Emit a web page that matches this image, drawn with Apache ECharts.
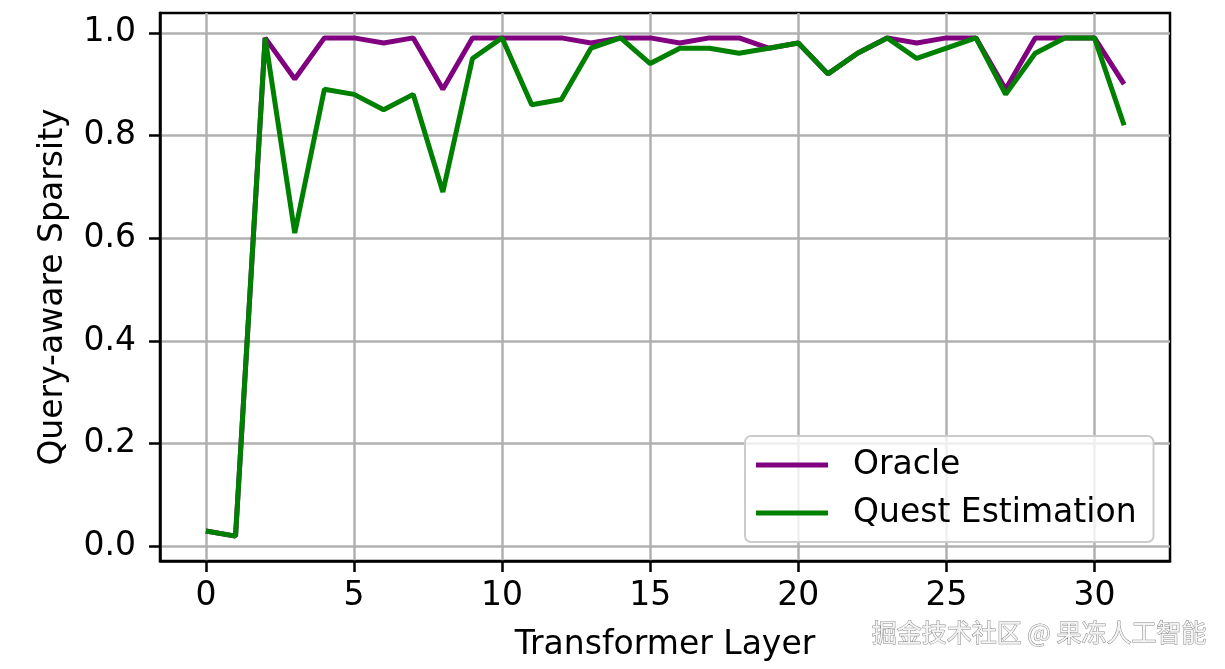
<!DOCTYPE html>
<html>
<head>
<meta charset="utf-8">
<script src="https://cdn.jsdelivr.net/npm/echarts@6/dist/echarts.min.js"></script>
<style>html,body{margin:0;padding:0;background:#fff}#c{width:1225px;height:669px}</style>
</head>
<body>
<div id="c"></div>
<script>
const layers = Array.from({length: 32}, (_, i) => i);
const oracle = [0.03,0.02,0.99,0.91,0.99,0.99,0.98,0.99,0.89,0.99,0.99,0.99,0.99,0.98,0.99,0.99,0.98,0.99,0.99,0.97,0.98,0.92,0.96,0.99,0.98,0.99,0.99,0.89,0.99,0.99,0.99,0.90];
const quest = [0.03,0.02,0.99,0.61,0.89,0.88,0.85,0.88,0.69,0.95,0.99,0.86,0.87,0.97,0.99,0.94,0.97,0.97,0.96,0.97,0.98,0.92,0.96,0.99,0.95,0.97,0.99,0.88,0.96,0.99,0.99,0.82];
const xTicks = [0,5,10,15,20,25,30];
const yTicks = [0,0.2,0.4,0.6,0.8,1.0];
const seriesNames = ['Oracle','Quest Estimation'];
const xTitle = 'Transformer Layer';
const yTitle = 'Query-aware Sparsity';
const watermark = '掘金技术社区 @ 果冻人工智能';

const FONT = 'DejaVu Sans';
const FS = 33;
const chart = echarts.init(document.getElementById('c'), null, {renderer: 'canvas'});
const pair = (xs, ys) => xs.map((x, i) => [x, ys[i]]);
const xPad = (layers[layers.length-1] - layers[0]) * 0.05;
const yMinD = Math.min(...oracle, ...quest), yMaxD = Math.max(...oracle, ...quest);
const yPad = (yMaxD - yMinD) * 0.05;

chart.setOption({
  animation: false,
  backgroundColor: '#fff',
  grid: {left: 160, right: 55, top: 13, bottom: 108, show: true, borderColor: '#000', borderWidth: 2.5, backgroundColor: 'transparent'},
  xAxis: {
    type: 'value', min: layers[0] - xPad, max: layers[layers.length-1] + xPad,
    name: xTitle, nameLocation: 'middle', nameGap: 68,
    nameTextStyle: {fontFamily: FONT, fontSize: FS, color: '#000'},
    axisLine: {show: true, onZero: false, lineStyle: {color: '#000', width: 2.5}},
    axisTick: {show: true, customValues: xTicks, length: 11, lineStyle: {color: '#000', width: 2.5}},
    axisLabel: {customValues: xTicks, margin: 19, fontFamily: FONT, fontSize: FS, color: '#000'},
    splitLine: {show: true, lineStyle: {color: '#b0b0b0', width: 2.5}}
  },
  yAxis: {
    type: 'value', min: yMinD - yPad, max: yMaxD + yPad,
    name: yTitle, nameLocation: 'middle', nameGap: 90,
    nameTextStyle: {fontFamily: FONT, fontSize: FS, color: '#000'},
    axisLine: {show: true, onZero: false, lineStyle: {color: '#000', width: 2.5}},
    axisTick: {show: true, customValues: yTicks, length: 11, lineStyle: {color: '#000', width: 2.5}},
    axisLabel: {customValues: yTicks, margin: 24, fontFamily: FONT, fontSize: FS, color: '#000', formatter: v => v.toFixed(1)},
    splitLine: {show: true, lineStyle: {color: '#b0b0b0', width: 2.5}}
  },
  legend: {
    orient: 'vertical', left: 745, top: 436,
    padding: [11, 17, 11, 11],
    itemGap: 12, itemWidth: 72, itemHeight: 5, icon: 'rect',
    backgroundColor: 'rgba(255,255,255,0.8)', borderColor: '#cccccc', borderWidth: 2, borderRadius: 6,
    textStyle: {fontFamily: FONT, fontSize: FS, color: '#000', lineHeight: 36, padding: [0,0,0,20]},
    data: seriesNames
  },
  series: [
    {name: seriesNames[0], type: 'line', data: pair(layers, oracle), showSymbol: false, symbol: 'none',
     lineStyle: {color: '#800080', width: 5}, itemStyle: {color: '#800080'}, z: 2},
    {name: seriesNames[1], type: 'line', data: pair(layers, quest), showSymbol: false, symbol: 'none',
     lineStyle: {color: '#008000', width: 5}, itemStyle: {color: '#008000'}, z: 3}
  ],
  graphic: [{
    type: 'text', right: 18, top: 619, z: 100,
    style: {text: watermark, font: '25px "Noto Sans CJK SC"', fill: '#f4f4f4', stroke: '#8a8a8a', lineWidth: 1,
            shadowColor: 'rgba(0,0,0,0.35)', shadowBlur: 2, shadowOffsetX: 1, shadowOffsetY: 1}
  }]
});
</script>
</body>
</html>
